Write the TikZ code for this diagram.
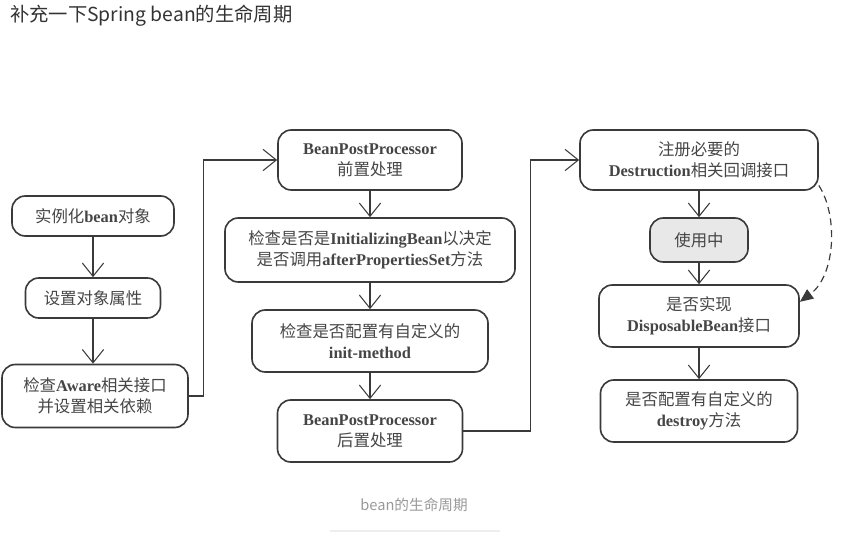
\documentclass[tikz,border=0pt]{standalone}
\usepackage{fontspec}
\setmainfont{Noto Sans CJK SC}
\newfontfamily\enfont{Liberation Serif}
\usetikzlibrary{arrows.meta}
\definecolor{boxline}{HTML}{3A3A3A}
\definecolor{boxtext}{HTML}{454545}
\definecolor{usefill}{HTML}{E8E8E8}
\definecolor{titlec}{HTML}{333333}
\definecolor{capc}{HTML}{999999}
\definecolor{rulec}{HTML}{EEEEEE}
\newcommand{\en}[1]{{\enfont\bfseries #1}}
\tikzset{
  stepbox/.style={draw=boxline, line width=1.4pt, rounded corners=0.4cm, align=center,
    text=boxtext, inner sep=0pt, font=\fontsize{14}{18}\selectfont},
  flow/.style={draw=boxline, line width=0.9pt, -{Straight Barb[length=0.4cm,width=0.64cm]}},
  backflow/.style={draw=boxline, line width=1pt, dash pattern=on 6pt off 4pt, -{Triangle[length=0.4cm,width=0.34cm]}}
}
\begin{document}
\begin{tikzpicture}[x=0.03cm, y=-0.03cm]
  \useasboundingbox (0,0) rectangle (845,542);
  \node[anchor=west, text=titlec, font=\fontsize{16.5}{19}\selectfont] (title) at (6,16) {补充一下Spring bean的生命周期};
  % left column
  \node[stepbox, minimum width=4.86cm, minimum height=1.2cm] (inst) at (93,216) {实例化\en{bean}对象};
  \node[stepbox, minimum width=4.05cm, minimum height=1.2cm] (prop) at (93,298) {设置对象属性};
  \node[stepbox, minimum width=5.58cm, minimum height=1.89cm] (aware) at (95,396) {检查\en{Aware}相关接口\\并设置相关依赖};
  % middle column
  \node[stepbox, minimum width=5.52cm, minimum height=1.8cm] (bppbefore) at (370,160) {\en{BeanPostProcessor}\\前置处理};
  \node[stepbox, minimum width=8.7cm, minimum height=1.92cm] (initbean) at (370,250) {检查是否是\en{InitializingBean}以决定\\是否调用\en{afterPropertiesSet}方法};
  \node[stepbox, minimum width=7.08cm, minimum height=1.86cm] (initmethod) at (370,341) {检查是否配置有自定义的\\\en{init-method}};
  \node[stepbox, minimum width=5.55cm, minimum height=1.86cm] (bppafter) at (370,431) {\en{BeanPostProcessor}\\后置处理};
  % right column
  \node[stepbox, minimum width=7.14cm, minimum height=1.8cm] (destreg) at (699,160) {注册必要的\\\en{Destruction}相关回调接口};
  \node[stepbox, fill=usefill, minimum width=2.94cm, minimum height=1.32cm] (inuse) at (699,240) {使用中};
  \node[stepbox, minimum width=6cm, minimum height=1.86cm] (disposable) at (699,316) {是否实现\\\en{DisposableBean}接口};
  \node[stepbox, minimum width=5.91cm, minimum height=1.86cm] (destroy) at (699,411) {是否配置有自定义的\\\en{destroy}方法};

  \draw[flow] (inst) -- (prop);
  \draw[flow] (prop) -- (inst |- aware.north);
  \draw[flow] (aware.east) -- ++(15,0) |- (bppbefore.west);
  \draw[flow] (bppbefore) -- (initbean);
  \draw[flow] (initbean) -- (initmethod);
  \draw[flow] (initmethod) -- (bppafter);
  \draw[flow] (bppafter.east) -- ++(67,0) |- (destreg.west);
  \draw[flow] (destreg) -- (inuse);
  \draw[flow] (inuse) -- (disposable);
  \draw[flow] (disposable) -- (destroy);
  \draw[backflow] (destreg.-12) .. controls (838,215) and (836,275) .. (disposable.8);

  \node[text=capc, font=\fontsize{12.5}{15}\selectfont] (caption) at (414,505) {bean的生命周期};
  \draw[rulec, line width=1pt] (330,531) -- (500,531);
\end{tikzpicture}
\end{document}
